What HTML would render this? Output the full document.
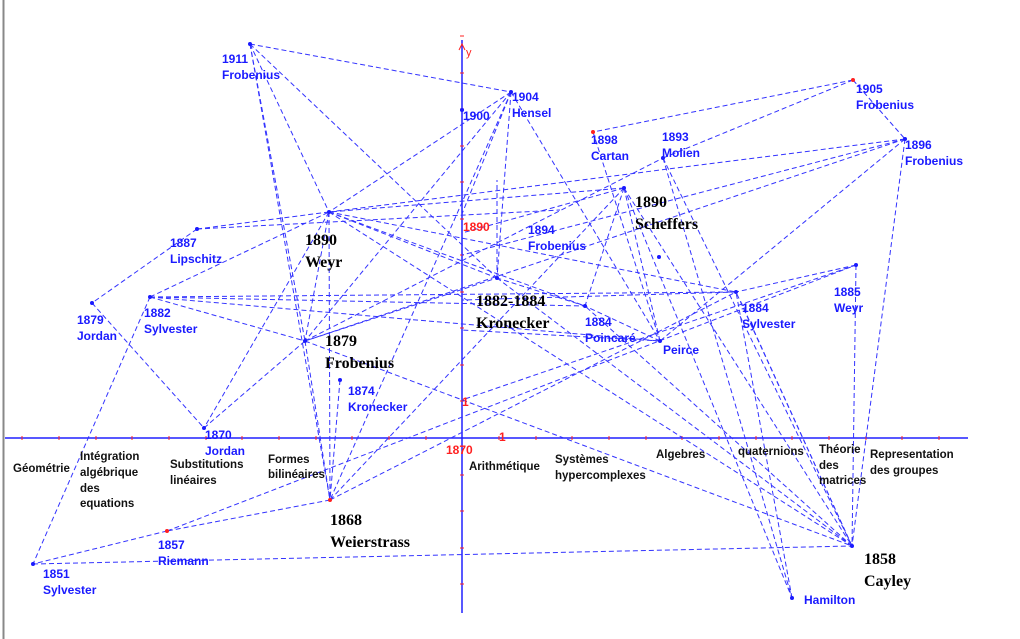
<!DOCTYPE html>
<html><head><meta charset="utf-8"><style>
html,body{margin:0;padding:0;background:#fff;}
svg{display:block}
.b{font-family:"Liberation Sans",sans-serif;font-weight:bold;font-size:12px;fill:#1a1aff}
.k{font-family:"Liberation Serif",serif;font-weight:bold;font-size:16px;fill:#000}
.c{font-family:"Liberation Sans",sans-serif;font-weight:bold;font-size:11.5px;fill:#111}
.r{font-family:"Liberation Sans",sans-serif;font-weight:bold;font-size:12px;fill:#ff2020}
</style></head><body>
<svg width="1020" height="639" viewBox="0 0 1020 639" xmlns="http://www.w3.org/2000/svg">
<rect width="1020" height="639" fill="#fff"/>
<line x1="3.5" y1="0" x2="3.5" y2="639" stroke="#888" stroke-width="2"/>
<line x1="5" y1="438" x2="968" y2="438" stroke="#2020ff" stroke-width="1.5"/>
<line x1="462" y1="40" x2="462" y2="613" stroke="#2020ff" stroke-width="1.5"/>
<g stroke="#ff2020" stroke-width="1">
<line x1="22" y1="436" x2="22" y2="440"/><line x1="59" y1="436" x2="59" y2="440"/><line x1="96" y1="436" x2="96" y2="440"/><line x1="132" y1="436" x2="132" y2="440"/><line x1="169" y1="436" x2="169" y2="440"/><line x1="206" y1="436" x2="206" y2="440"/><line x1="242" y1="436" x2="242" y2="440"/><line x1="279" y1="436" x2="279" y2="440"/><line x1="316" y1="436" x2="316" y2="440"/><line x1="352" y1="436" x2="352" y2="440"/><line x1="389" y1="436" x2="389" y2="440"/><line x1="426" y1="436" x2="426" y2="440"/><line x1="499" y1="436" x2="499" y2="440"/><line x1="536" y1="436" x2="536" y2="440"/><line x1="572" y1="436" x2="572" y2="440"/><line x1="609" y1="436" x2="609" y2="440"/><line x1="646" y1="436" x2="646" y2="440"/><line x1="682" y1="436" x2="682" y2="440"/><line x1="719" y1="436" x2="719" y2="440"/><line x1="756" y1="436" x2="756" y2="440"/><line x1="792" y1="436" x2="792" y2="440"/><line x1="829" y1="436" x2="829" y2="440"/><line x1="866" y1="436" x2="866" y2="440"/><line x1="902" y1="436" x2="902" y2="440"/><line x1="939" y1="436" x2="939" y2="440"/>
<line x1="460" y1="401" x2="464" y2="401"/><line x1="460" y1="365" x2="464" y2="365"/><line x1="460" y1="328" x2="464" y2="328"/><line x1="460" y1="292" x2="464" y2="292"/><line x1="460" y1="255" x2="464" y2="255"/><line x1="460" y1="219" x2="464" y2="219"/><line x1="460" y1="182" x2="464" y2="182"/><line x1="460" y1="146" x2="464" y2="146"/><line x1="460" y1="109" x2="464" y2="109"/><line x1="460" y1="73" x2="464" y2="73"/><line x1="460" y1="36" x2="464" y2="36"/>
<line x1="460" y1="475" x2="464" y2="475"/><line x1="460" y1="511" x2="464" y2="511"/><line x1="460" y1="548" x2="464" y2="548"/><line x1="460" y1="584" x2="464" y2="584"/>
</g>
<path d="M459 50 L462 44 L465 50" fill="none" stroke="#ff2020"/>
<text x="466" y="56" class="r" style="font-weight:normal;font-size:11px">y</text>
<g stroke="#3333ff" stroke-width="1" stroke-dasharray="5,3" fill="none">
<line x1="250" y1="44" x2="511" y2="92"/>
<line x1="250" y1="44" x2="329" y2="212"/>
<line x1="250" y1="44" x2="497" y2="278"/>
<line x1="250" y1="44" x2="305" y2="341"/>
<line x1="250" y1="44" x2="330" y2="500"/>
<line x1="511" y1="92" x2="329" y2="212"/>
<line x1="511" y1="92" x2="305" y2="341"/>
<line x1="511" y1="92" x2="497" y2="278"/>
<line x1="511" y1="92" x2="660" y2="341"/>
<line x1="511" y1="92" x2="462" y2="214"/>
<line x1="511" y1="92" x2="330" y2="500"/>
<line x1="853" y1="80" x2="593" y2="132"/>
<line x1="853" y1="80" x2="663" y2="158"/>
<line x1="853" y1="80" x2="905" y2="139"/>
<line x1="905" y1="139" x2="329" y2="212"/>
<line x1="905" y1="139" x2="305" y2="341"/>
<line x1="905" y1="139" x2="462" y2="255"/>
<line x1="905" y1="139" x2="660" y2="341"/>
<line x1="905" y1="139" x2="852" y2="546"/>
<line x1="663" y1="158" x2="852" y2="546"/>
<line x1="663" y1="158" x2="792" y2="598"/>
<line x1="593" y1="132" x2="660" y2="341"/>
<line x1="624" y1="188" x2="585" y2="306"/>
<line x1="624" y1="188" x2="660" y2="341"/>
<line x1="624" y1="188" x2="852" y2="546"/>
<line x1="624" y1="188" x2="329" y2="212"/>
<line x1="624" y1="188" x2="792" y2="598"/>
<line x1="624" y1="188" x2="462" y2="233"/>
<line x1="329" y1="212" x2="197" y2="229"/>
<line x1="329" y1="212" x2="736" y2="292"/>
<line x1="329" y1="212" x2="497" y2="278"/>
<line x1="329" y1="212" x2="305" y2="341"/>
<line x1="329" y1="212" x2="330" y2="500"/>
<line x1="329" y1="212" x2="204" y2="428"/>
<line x1="329" y1="212" x2="585" y2="306"/>
<line x1="329" y1="212" x2="852" y2="546"/>
<line x1="197" y1="229" x2="92" y2="303"/>
<line x1="197" y1="229" x2="560" y2="210"/>
<line x1="150" y1="297" x2="736" y2="292"/>
<line x1="150" y1="297" x2="585" y2="306"/>
<line x1="150" y1="297" x2="660" y2="341"/>
<line x1="150" y1="297" x2="305" y2="341"/>
<line x1="150" y1="297" x2="33" y2="564"/>
<line x1="150" y1="297" x2="329" y2="212"/>
<line x1="92" y1="303" x2="204" y2="428"/>
<line x1="204" y1="428" x2="305" y2="341"/>
<line x1="305" y1="341" x2="330" y2="500"/>
<line x1="305" y1="341" x2="852" y2="546"/>
<line x1="305" y1="341" x2="497" y2="278"/>
<line x1="305" y1="341" x2="663" y2="158"/>
<line x1="340" y1="380" x2="330" y2="500"/>
<line x1="330" y1="500" x2="624" y2="188"/>
<line x1="330" y1="500" x2="736" y2="292"/>
<line x1="330" y1="500" x2="167" y2="531"/>
<line x1="167" y1="531" x2="33" y2="564"/>
<line x1="167" y1="531" x2="856" y2="265"/>
<line x1="33" y1="564" x2="852" y2="546"/>
<line x1="856" y1="265" x2="852" y2="546"/>
<line x1="856" y1="265" x2="736" y2="292"/>
<line x1="856" y1="265" x2="462" y2="400"/>
<line x1="852" y1="546" x2="736" y2="292"/>
<line x1="852" y1="546" x2="740" y2="300"/>
<line x1="852" y1="546" x2="497" y2="278"/>
<line x1="852" y1="546" x2="585" y2="306"/>
<line x1="792" y1="598" x2="736" y2="292"/>
<line x1="660" y1="341" x2="585" y2="306"/>
<line x1="660" y1="341" x2="462" y2="330"/>
<line x1="736" y1="292" x2="462" y2="300"/>
<line x1="585" y1="306" x2="497" y2="278"/>
<line x1="497" y1="278" x2="497" y2="180"/>
</g>
<g fill="#1a1aff">
<circle cx="250" cy="44" r="2"/><circle cx="511" cy="92" r="2"/><circle cx="462" cy="110" r="2"/><circle cx="853" cy="80" r="2" fill="#ff2020"/><circle cx="593" cy="132" r="2" fill="#ff2020"/><circle cx="663" cy="158" r="2"/><circle cx="905" cy="139" r="2"/><circle cx="624" cy="188" r="2"/><circle cx="329" cy="212" r="2"/><circle cx="197" cy="229" r="2"/><circle cx="497" cy="278" r="2"/><circle cx="585" cy="306" r="2"/><circle cx="736" cy="292" r="2"/><circle cx="856" cy="265" r="2"/><circle cx="660" cy="341" r="2"/><circle cx="659" cy="257" r="2"/><circle cx="92" cy="303" r="2"/><circle cx="150" cy="297" r="2"/><circle cx="305" cy="341" r="2"/><circle cx="340" cy="380" r="2"/><circle cx="204" cy="428" r="2"/><circle cx="330" cy="500" r="2" fill="#ff2020"/><circle cx="167" cy="531" r="2" fill="#ff2020"/><circle cx="33" cy="564" r="2"/><circle cx="852" cy="546" r="2"/><circle cx="792" cy="598" r="2"/>
</g>
<text class="b" x="222" y="63">1911</text><text class="b" x="222" y="79">Frobenius</text>
<text class="b" x="463" y="120">1900</text>
<text class="b" x="512" y="101">1904</text><text class="b" x="512" y="117">Hensel</text>
<text class="b" x="856" y="93">1905</text><text class="b" x="856" y="109">Frobenius</text>
<text class="b" x="591" y="144">1898</text><text class="b" x="591" y="160">Cartan</text>
<text class="b" x="662" y="141">1893</text><text class="b" x="662" y="157">Molien</text>
<text class="b" x="905" y="149">1896</text><text class="b" x="905" y="165">Frobenius</text>
<text class="b" x="170" y="247">1887</text><text class="b" x="170" y="263">Lipschitz</text>
<text class="b" x="528" y="234">1894</text><text class="b" x="528" y="250">Frobenius</text>
<text class="b" x="77" y="324">1879</text><text class="b" x="77" y="340">Jordan</text>
<text class="b" x="144" y="317">1882</text><text class="b" x="144" y="333">Sylvester</text>
<text class="b" x="585" y="326">1884</text><text class="b" x="585" y="342">Poincaré</text>
<text class="b" x="742" y="312">1884</text><text class="b" x="742" y="328">Sylvester</text>
<text class="b" x="834" y="296">1885</text><text class="b" x="834" y="312">Weyr</text>
<text class="b" x="663" y="354">Peirce</text>
<text class="b" x="348" y="395">1874</text><text class="b" x="348" y="411">Kronecker</text>
<text class="b" x="205" y="439">1870</text><text class="b" x="205" y="455">Jordan</text>
<text class="b" x="158" y="549">1857</text><text class="b" x="158" y="565">Riemann</text>
<text class="b" x="43" y="578">1851</text><text class="b" x="43" y="594">Sylvester</text>
<text class="b" x="804" y="604">Hamilton</text>
<text class="r" x="463" y="231">1890</text>
<text class="r" x="462" y="406">1</text>
<text class="r" x="499" y="441">1</text>
<text class="r" x="446" y="454">1870</text>
<text class="k" x="305" y="245">1890</text><text class="k" x="305" y="267">Weyr</text>
<text class="k" x="635" y="207">1890</text><text class="k" x="635" y="229">Scheffers</text>
<text class="k" x="476" y="306">1882-1884</text><text class="k" x="476" y="328">Kronecker</text>
<text class="k" x="325" y="346">1879</text><text class="k" x="325" y="368">Frobenius</text>
<text class="k" x="330" y="525">1868</text><text class="k" x="330" y="547">Weierstrass</text>
<text class="k" x="864" y="564">1858</text><text class="k" x="864" y="586">Cayley</text>
<text class="c" x="13" y="472">Géométrie</text>
<text class="c" x="80" y="460">Intégration</text><text class="c" x="80" y="476">algébrique</text><text class="c" x="80" y="492">des</text><text class="c" x="80" y="507">equations</text>
<text class="c" x="170" y="468">Substitutions</text><text class="c" x="170" y="484">linéaires</text>
<text class="c" x="268" y="463">Formes</text><text class="c" x="268" y="478">bilinéaires</text>
<text class="c" x="469" y="470">Arithmétique</text>
<text class="c" x="555" y="463">Systèmes</text><text class="c" x="555" y="479">hypercomplexes</text>
<text class="c" x="656" y="458">Algebres</text>
<text class="c" x="738" y="455">quaternions</text>
<text class="c" x="819" y="453">Théorie</text><text class="c" x="819" y="469">des</text><text class="c" x="819" y="484">matrices</text>
<text class="c" x="870" y="458">Representation</text><text class="c" x="870" y="474">des groupes</text>
</svg>
</body></html>
